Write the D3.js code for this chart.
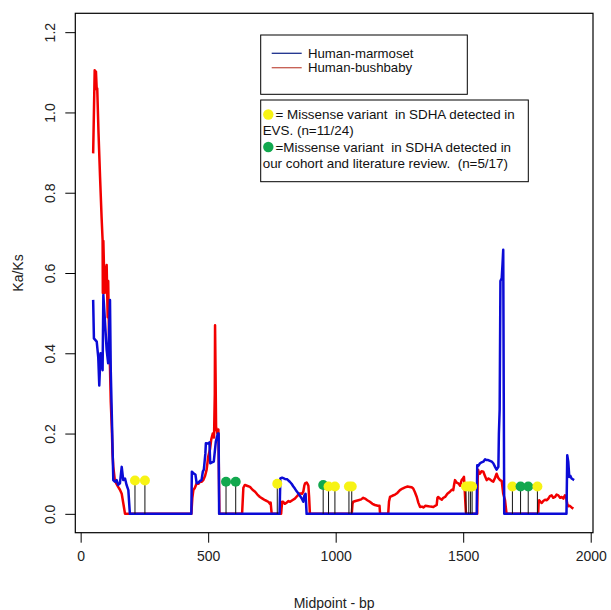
<!DOCTYPE html>
<html>
<head>
<meta charset="utf-8">
<script src="https://cdn.jsdelivr.net/npm/d3@7"></script>
<style>
  body { margin: 0; background: #fff; }
  svg { display: block; font-family: "Liberation Sans", Arial, sans-serif; }
  .keep { white-space: pre; }
</style>
</head>
<body>
<div id="chart"></div>
<script>
// Ka/Ks sliding window, [midpoint bp, Ka/Ks]
const marmoset = [
  [49,0.533],[52,0.437],[63,0.429],[69,0.39],[73,0.32],[78,0.4],[86,0.358],[89,0.545],[95,0.483],
  [102,0.408],[108,0.375],[115,0.533],[118,0.358],[122,0.25],[128,0.084],[134,0.08],[141,0.084],
  [147,0.072],[154,0.076],[161,0.117],[167,0.084],[174,0.088],[180,0.072],[187,0.059],[193,0],
  [434,0],[436,0.105],[444,0.1],[450,0.098],[455,0.076],[462,0.078],[468,0.082],[474,0.084],
  [479,0.105],[483,0.11],[489,0.15],[491,0.176],[500,0.175],[505,0.178],[508,0.126],[515,0.128],
  [522,0.13],[530,0.18],[538,0.2],[541,0.2],[543,0],
  [780,0],[783,0.088],[790,0.09],[801,0.087],[810,0.086],[820,0.08],[827,0.075],[834,0.068],
  [840,0.063],[847,0.056],[853,0.051],[860,0.045],[867,0.038],[873,0.03],[877,0.045],[882,0.05],[886,0],
  [1553,0],[1555,0.121],[1560,0.12],[1566,0.126],[1572,0.128],[1579,0.13],[1586,0.136],[1592,0.134],
  [1598,0.134],[1605,0.132],[1612,0.13],[1618,0.126],[1625,0.117],[1631,0.11],[1638,0.117],[1640,0.2],
  [1643,0.26],[1646,0.58],[1651,0.587],[1654,0.62],[1657,0.658],[1659,0.3],[1661,0],
  [1905,0],[1908,0.146],[1912,0.13],[1916,0.092],[1920,0.095],[1925,0.088],[1930,0.086],[1935,0.084]
]
const bushbaby = [
  [49,0.898],[52,1.0],[55,1.105],[58,1.1],[60,1.102],[63,1.057],[65,1.06],[70,0.95],[76,0.84],
  [82,0.74],[86,0.683],[87,0.55],[89,0.68],[92,0.6],[94,0.55],[98,0.6],[102,0.62],[104,0.55],
  [106,0.49],[108,0.58],[111,0.45],[115,0.366],[118,0.28],[122,0.217],[125,0.15],[128,0.117],
  [134,0.084],[140,0.075],[147,0.067],[154,0.06],[161,0.05],[167,0.027],[174,0],
  [434,0],[438,0.04],[442,0.059],[448,0.065],[455,0.076],[462,0.075],[468,0.08],[474,0.08],
  [481,0.084],[488,0.095],[494,0.11],[500,0.142],[507,0.16],[512,0.185],[518,0.2],[523,0.19],
  [526,0.3],[527,0.47],[529,0.35],[531,0.217],[536,0.2],[540,0.21],[544,0],
  [633,0],[638,0.065],[644,0.072],[652,0.07],[664,0.067],[674,0.06],[684,0.055],[693,0.048],
  [703,0.042],[713,0.038],[723,0.034],[730,0.032],[736,0.03],[742,0.025],[745,0.028],[749,0],
  [786,0],[790,0.03],[794,0.03],[800,0.025],[808,0.028],[815,0.032],[821,0.03],[830,0.034],
  [840,0.038],[850,0.045],[860,0.051],[868,0.05],[873,0.055],[877,0.07],[880,0.076],[886,0.078],
  [890,0.074],[893,0.07],[896,0.04],[899,0],
  [1063,0],[1066,0.025],[1069,0.03],[1078,0.032],[1089,0.034],[1100,0.036],[1108,0.04],[1115,0.038],
  [1124,0.034],[1134,0.03],[1144,0.025],[1154,0.022],[1165,0.02],[1172,0.02],[1174,0],
  [1206,0],[1209,0.03],[1213,0.042],[1222,0.045],[1233,0.048],[1242,0.052],[1252,0.059],[1262,0.063],
  [1272,0.066],[1282,0.068],[1291,0.067],[1298,0.066],[1304,0.063],[1310,0.055],[1318,0.042],
  [1324,0.028],[1331,0.017],[1338,0.018],[1344,0.016],[1352,0.02],[1363,0.019],[1372,0.018],
  [1383,0.017],[1390,0.02],[1396,0.022],[1399,0.04],[1402,0.042],[1409,0.038],[1416,0.035],
  [1422,0.04],[1429,0.042],[1438,0.05],[1448,0.055],[1455,0.06],[1461,0.059],[1465,0.075],
  [1468,0.084],[1474,0.078],[1481,0.076],[1488,0.07],[1494,0.084],[1499,0.088],[1503,0.092],
  [1506,0.06],[1508,0.034],[1511,0],
  [1555,0],[1557,0.09],[1559,0.109],[1562,0.1],[1566,0.1],[1572,0.106],[1579,0.105],[1585,0.095],
  [1592,0.084],[1598,0.088],[1605,0.086],[1612,0.082],[1618,0.08],[1625,0.09],[1631,0.1],
  [1637,0.09],[1644,0.084],[1651,0.082],[1657,0.05],[1664,0.034],[1670,0],
  [1794,0],[1796,0.03],[1798,0.034],[1803,0.03],[1808,0.027],[1814,0.032],[1821,0.035],[1828,0.034],
  [1834,0.038],[1840,0.044],[1847,0.046],[1853,0.04],[1860,0.042],[1866,0.048],[1873,0.046],
  [1880,0.04],[1886,0.042],[1893,0.038],[1899,0.046],[1904,0.04],[1908,0.025],[1912,0.019],
  [1918,0.02],[1925,0.016],[1932,0.013]
]

// missense variants: position, source (EVS / cohort), marker height
const variantPos = [213,252,570,608,771,951,972,997,1052,1063,1511,1522,1529,1535,1693,1725,1755,1791]
const variantType = ["evs","evs","cohort","cohort","evs","cohort","evs","evs","evs","evs",
  "evs","evs","evs","evs","evs","cohort","cohort","evs"]
const variantY = [0.083,0.083,0.08,0.08,0.075,0.072,0.068,0.068,0.068,0.068,
  0.068,0.068,0.068,0.068,0.068,0.068,0.068,0.068]

const xTicks = [0,500,1000,1500,2000]
const yTicks = [0,0.2,0.4,0.6,0.8,1.0,1.2]

const seriesNames = ["Human-marmoset","Human-bushbaby"]
const variantNotes = [
  ["= Missense variant  in SDHA detected in", "EVS. (n=11/24)"],
  ["=Missense variant  in SDHA detected in", "our cohort and literature review.  (n=5/17)"]
]

const width = 611
const height = 610
const plot = {left: 75.3, right: 593, top: 13.3, bottom: 532.7}

const x = d3.scaleLinear().domain([-21, 2009]).range([plot.left, plot.right])
const y = d3.scaleLinear().domain([-0.047, 1.247]).range([plot.bottom, plot.top])

const lineColors = {marmoset: "#0b0bd6", bushbaby: "#f20000"}
const dotColors = {evs: "#f7f314", cohort: "#12a84e"}

const svg = d3.select("#chart").append("svg")
  .attr("width", width)
  .attr("height", height)

// data lines
const line = d3.line().x(d => x(d[0])).y(d => y(d[1]))
svg.append("path")
  .datum(bushbaby)
  .attr("d", line)
  .attr("fill", "none")
  .attr("stroke", lineColors.bushbaby)
  .attr("stroke-width", 2.5)
  .attr("stroke-linejoin", "round")
svg.append("path")
  .datum(marmoset)
  .attr("d", line)
  .attr("fill", "none")
  .attr("stroke", lineColors.marmoset)
  .attr("stroke-width", 2.5)
  .attr("stroke-linejoin", "round")

// variant sticks + dots
const variants = variantPos.map((p, i) => ({pos: p, type: variantType[i], v: variantY[i]}))
svg.append("g").selectAll("line")
  .data(variants)
  .join("line")
  .attr("x1", d => x(d.pos)).attr("x2", d => x(d.pos))
  .attr("y1", y(0)).attr("y2", d => y(d.v))
  .attr("stroke", "#111")
  .attr("stroke-width", 1)
svg.append("g").selectAll("circle")
  .data(variants)
  .join("circle")
  .attr("cx", d => x(d.pos))
  .attr("cy", d => y(d.v))
  .attr("r", 5)
  .attr("fill", d => dotColors[d.type])

// frame
svg.append("rect")
  .attr("x", plot.left).attr("y", plot.top)
  .attr("width", plot.right - plot.left)
  .attr("height", plot.bottom - plot.top)
  .attr("fill", "none")
  .attr("stroke", "#000")
  .attr("stroke-width", 1.2)

// axes (R style)
const xAxis = svg.append("g")
  .attr("transform", `translate(0,${plot.bottom})`)
  .call(d3.axisBottom(x).tickValues(xTicks).tickSize(10).tickPadding(8).tickFormat(d3.format("d")))
xAxis.select(".domain").remove()
xAxis.selectAll("text").attr("font-size", 14).attr("fill", "#222")
  .attr("font-family", "Liberation Sans, Arial, sans-serif")

const yAxis = svg.append("g")
  .attr("transform", `translate(${plot.left},0)`)
  .call(d3.axisLeft(y).tickValues(yTicks).tickSize(10).tickFormat(d3.format(".1f")))
yAxis.select(".domain").remove()
yAxis.selectAll("text")
  .attr("font-size", 14).attr("fill", "#222")
  .attr("font-family", "Liberation Sans, Arial, sans-serif")
  .attr("text-anchor", "middle")
  .attr("dy", null)
  .attr("x", null)
  .attr("transform", "translate(-25,0) rotate(-90)")
  .attr("dominant-baseline", "central")

svg.append("text")
  .attr("x", (plot.left + plot.right) / 2)
  .attr("y", 608)
  .attr("text-anchor", "middle")
  .attr("font-size", 14)
  .attr("fill", "#222")
  .text("Midpoint - bp")
svg.append("text")
  .attr("transform", `translate(23,${(plot.top + plot.bottom) / 2}) rotate(-90)`)
  .attr("text-anchor", "middle")
  .attr("font-size", 14)
  .attr("fill", "#222")
  .text("Ka/Ks")

// legend 1 - series
const leg1 = svg.append("g")
leg1.append("rect")
  .attr("x", 260.7).attr("y", 35).attr("width", 206.6).attr("height", 59.3)
  .attr("fill", "#fff").attr("stroke", "#000").attr("stroke-width", 1)
const legLineColors = ["#1b2f8c", "#c45a4f"]
seriesNames.forEach((name, i) => {
  const yy = 53.3 + i * 14.4
  leg1.append("line")
    .attr("x1", 271.7).attr("x2", 301.7).attr("y1", yy).attr("y2", yy)
    .attr("stroke", legLineColors[i]).attr("stroke-width", 1.3)
  leg1.append("text")
    .attr("x", 308).attr("y", yy + 4.6)
    .attr("font-size", 13.2).attr("fill", "#111")
    .text(name)
})

// legend 2 - variants
const leg2 = svg.append("g")
leg2.append("rect")
  .attr("x", 260.7).attr("y", 100).attr("width", 267.6).attr("height", 81.7)
  .attr("fill", "#fff").attr("stroke", "#000").attr("stroke-width", 1)
const noteKeys = ["evs", "cohort"]
variantNotes.forEach((lines, i) => {
  const y0 = 114.5 + i * 32.5
  leg2.append("circle")
    .attr("cx", 268.3).attr("cy", y0).attr("r", 5.2)
    .attr("fill", dotColors[noteKeys[i]])
  leg2.append("text")
    .attr("class", "keep")
    .attr("x", 275.5).attr("y", y0 + 4.6)
    .attr("font-size", 13.4).attr("fill", "#111")
    .text(lines[0])
  leg2.append("text")
    .attr("class", "keep")
    .attr("x", 262.7).attr("y", y0 + 4.6 + 16)
    .attr("font-size", 13.4).attr("fill", "#111")
    .text(lines[1])
})
</script>
</body>
</html>
